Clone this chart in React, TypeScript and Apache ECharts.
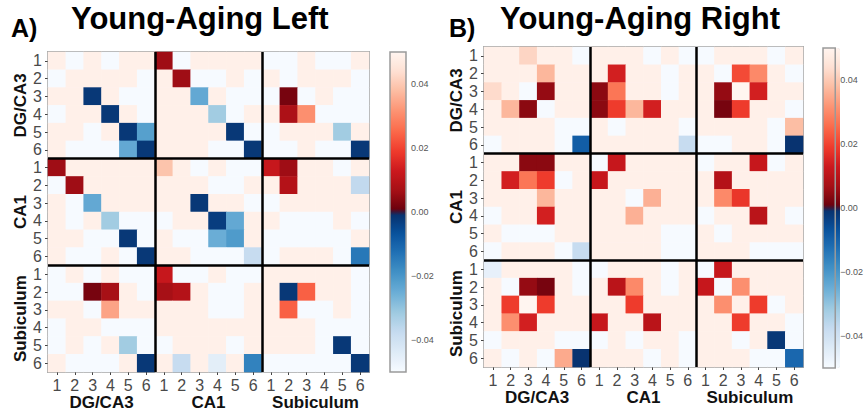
import React, { useEffect, useRef } from "react";
import * as echarts from "echarts";

const regions = ["DG/CA3", "CA1", "Subiculum"];
const subfieldTicks = ["1", "2", "3", "4", "5", "6"];
const colorbarTicks = [-0.04, -0.02, 0, 0.02, 0.04];
const P = 0.0485; // non-significant, positive
const B = -0.0497; // non-significant, negative

const leftValues = [
  [P, B, P, B, P, P, 0.006, B, P, P, P, P, B, B, P, B, B, P],
  [B, P, P, P, P, B, P, 0.006, B, B, P, B, P, B, P, P, P, B],
  [P, P, -0.002, P, B, B, P, P, -0.024, P, B, B, B, 0.002, B, P, B, B],
  [B, P, P, -0.002, P, B, P, P, P, -0.032, B, P, P, 0.008, 0.031, B, B, B],
  [P, P, B, P, -0.002, -0.022, P, P, P, P, -0.002, B, B, P, P, P, -0.032, P],
  [P, B, B, B, -0.024, -0.002, P, P, P, B, B, -0.002, B, B, P, B, B, -0.002],
  [0.006, P, P, P, P, P, 0.039, P, B, P, B, B, 0.012, 0.006, P, P, B, P],
  [B, 0.006, P, P, P, P, P, P, P, B, B, P, P, 0.009, P, P, P, -0.037],
  [P, B, -0.024, P, P, P, P, P, -0.002, P, P, B, B, P, P, P, P, P],
  [P, B, P, -0.032, B, B, B, P, P, -0.003, -0.024, P, P, B, B, B, P, B],
  [P, P, B, B, -0.002, B, P, B, B, -0.025, -0.021, P, B, B, B, B, B, P],
  [P, B, B, P, B, -0.002, P, P, B, B, B, -0.038, B, P, P, P, B, -0.014],
  [B, P, B, P, B, B, 0.012, B, B, P, B, B, P, P, P, P, P, B],
  [B, B, 0.002, 0.007, P, B, 0.007, 0.009, P, B, B, P, P, -0.002, 0.024, P, P, B],
  [P, P, B, 0.034, P, P, P, P, P, B, B, P, P, 0.024, B, B, P, B],
  [B, P, P, B, B, B, P, P, P, P, P, P, P, P, P, B, B, B],
  [B, P, B, P, -0.032, B, B, P, P, P, B, P, P, P, P, B, -0.002, B],
  [P, B, B, B, P, -0.002, P, -0.038, P, -0.045, P, -0.016, B, B, B, B, B, -0.002],
];

const rightValues = [
  [P, P, 0.042, P, P, B, P, P, P, B, P, B, B, P, P, P, B, P],
  [P, P, P, 0.037, P, P, P, 0.014, P, P, B, P, P, B, 0.021, 0.03, P, B],
  [0.043, P, B, 0.005, P, P, 0.004, 0.027, P, P, B, P, P, 0.005, 0.05, 0.014, P, P],
  [P, 0.037, 0.004, B, P, P, 0.004, 0.019, 0.037, 0.014, P, P, P, 0.002, 0.019, P, P, B],
  [P, P, P, P, B, B, P, B, P, P, P, B, P, P, P, P, B, 0.038],
  [B, P, P, P, B, -0.009, P, P, P, P, P, -0.038, B, B, P, P, B, -0.001],
  [P, P, 0.004, 0.004, P, P, B, 0.012, P, P, P, P, B, P, P, 0.012, B, P],
  [P, 0.014, 0.027, 0.019, B, P, 0.012, P, P, P, P, P, P, 0.009, P, P, P, P],
  [P, P, P, 0.037, P, P, P, P, B, 0.036, P, P, P, 0.03, 0.018, P, P, P],
  [B, P, P, 0.014, P, P, P, P, 0.036, P, P, P, B, P, P, 0.01, P, B],
  [P, B, B, B, P, P, P, P, P, P, B, B, P, B, P, P, P, P],
  [B, P, P, P, B, -0.038, P, P, P, P, B, B, P, P, P, B, B, B],
  [-0.046, P, P, P, P, B, B, P, P, P, B, P, B, 0.012, P, P, P, P],
  [P, B, 0.005, 0.002, P, B, P, 0.01, 0.03, P, B, P, 0.012, B, 0.031, P, P, P],
  [P, 0.019, 0.05, 0.019, P, P, P, P, 0.019, P, P, P, P, 0.031, P, 0.019, B, P],
  [P, 0.031, 0.014, P, P, P, 0.012, P, P, 0.01, P, P, P, P, 0.019, P, P, B],
  [B, P, P, P, B, B, B, P, B, P, P, B, P, P, B, P, -0.002, B],
  [P, B, P, B, 0.035, -0.001, P, P, P, B, P, B, P, P, P, B, B, -0.011],
];

const FONT = "'Liberation Sans', Arial, Helvetica, sans-serif";
const BLUES = ["#f7fbff", "#deebf7", "#c6dbef", "#9ecae1", "#6baed6", "#4292c6", "#2171b5", "#08519c", "#08306b"];
const REDS = ["#67000d", "#a50f15", "#cb181d", "#ef3b2c", "#fb6a4a", "#fc9272", "#fcbba1", "#fee0d2", "#fff5f0"];

function hexToRgb(h: string) {
  const n = parseInt(h.slice(1), 16);
  return [(n >> 16) & 255, (n >> 8) & 255, n & 255];
}
function samplePalette(pal: string[], n: number) {
  const out: string[] = [];
  for (let i = 0; i < n; i++) {
    const pos = (i / (n - 1)) * (pal.length - 1);
    const k = Math.min(Math.floor(pos), pal.length - 2);
    const f = pos - k;
    const a = hexToRgb(pal[k]);
    const b = hexToRgb(pal[k + 1]);
    const c = a.map((v, j) => Math.round(v + (b[j] - v) * f));
    out.push(`rgb(${c[0]},${c[1]},${c[2]})`);
  }
  return out;
}
const colorStops = [...samplePalette(BLUES, 60), ...samplePalette(REDS, 60)];

const categories = regions.flatMap((r) => subfieldTicks.map((t) => `${r}|${t}`));
const toCells = (m: number[][]) => m.flatMap((row, r) => row.map((v, c) => [c, r, v]));

const panels = [
  {
    values: leftValues,
    grid: { left: 48, top: 52, width: 321, height: 320 },
    bar: { left: 390, top: 52, width: 16, height: 320 },
    tag: "A)", tagX: 11, tagY: 29,
    title: "Young-Aging Left", titleX: 71,
  },
  {
    values: rightValues,
    grid: { left: 484, top: 47, width: 319, height: 320 },
    bar: { left: 823, top: 48, width: 17, height: 320 },
    tag: "B)", tagX: 449, tagY: 29,
    title: "Young-Aging Right", titleX: 500,
  },
];

function buildOption() {
  const grid: any[] = [];
  const xAxis: any[] = [];
  const yAxis: any[] = [];
  const series: any[] = [];
  const visualMap: any[] = [];
  const graphic: any[] = [];

  panels.forEach((p, i) => {
    grid.push({ ...p.grid, show: true, borderColor: "#a8a8a8", borderWidth: 2, backgroundColor: "transparent" });
    const gi = i;
    xAxis.push({
      type: "category", gridIndex: gi, data: categories, position: "bottom",
      axisLine: { show: false },
      axisTick: { show: true, length: 3, alignWithLabel: true, lineStyle: { color: "#444" } },
      axisLabel: { interval: 0, margin: 5, fontSize: 16, color: "#4a4a4a", fontFamily: FONT, formatter: (v: string) => v.split("|")[1] },
      splitLine: { show: false },
    });
    yAxis.push({
      type: "category", gridIndex: gi, data: categories, position: "left", inverse: true,
      axisLine: { show: false },
      axisTick: { show: true, length: 3, alignWithLabel: true, lineStyle: { color: "#444" } },
      axisLabel: { interval: 0, margin: 6, fontSize: 16, color: "#4a4a4a", fontFamily: FONT, formatter: (v: string) => v.split("|")[1] },
      splitLine: { show: false },
    });
    xAxis.push({
      type: "category", gridIndex: gi, data: regions, position: "bottom", offset: 14, z: 5,
      axisLine: { show: false }, axisTick: { show: false },
      axisLabel: { interval: 0, margin: 8, fontSize: 17, fontWeight: "bold", color: "#111", fontFamily: FONT },
      splitLine: { show: true, showMinLine: false, showMaxLine: false, lineStyle: { color: "#000", width: 2.5 } },
    });
    yAxis.push({
      type: "category", gridIndex: gi, data: regions, position: "left", inverse: true, offset: 11, z: 5,
      axisLine: { show: false }, axisTick: { show: false },
      axisLabel: { interval: 0, margin: 8, rotate: 90, fontSize: 17, fontWeight: "bold", color: "#111", fontFamily: FONT },
      splitLine: { show: true, showMinLine: false, showMaxLine: false, lineStyle: { color: "#000", width: 2.5 } },
    });
    series.push({
      type: "heatmap", xAxisIndex: i * 2, yAxisIndex: i * 2,
      data: toCells(p.values),
      itemStyle: { borderWidth: 0 },
      emphasis: { disabled: true },
      progressive: 0,
    });
    visualMap.push({
      type: "continuous", seriesIndex: i, dimension: 2, min: -0.05, max: 0.05,
      calculable: false, hoverLink: false, realtime: false,
      inRange: { color: colorStops },
      left: p.bar.left, top: p.bar.top, itemWidth: p.bar.width, itemHeight: p.bar.height,
      padding: 0,
    });
    graphic.push(
      { type: "text", left: p.tagX, top: p.tagY - 14, style: { text: p.tag, font: `bold 25px ${FONT}`, fill: "#000" } },
      { type: "text", left: p.titleX, top: 3, style: { text: p.title, font: `bold 31px ${FONT}`, fill: "#000" } },
    );
  });

  panels.forEach((p, i) => {
    grid.push({ ...p.bar, show: true, borderColor: "#9a9a9a", borderWidth: 1.5, backgroundColor: "transparent", z: 10 });
    xAxis.push({ type: "value", gridIndex: 2 + i, show: false, min: 0, max: 1 });
    yAxis.push({
      type: "value", gridIndex: 2 + i, position: "right", min: -0.05, max: 0.05,
      axisLine: { show: false },
      axisTick: { show: true, length: 3, customValues: colorbarTicks, lineStyle: { color: "#666" } },
      axisLabel: {
        customValues: colorbarTicks, margin: 5, fontSize: 9, color: "#555", fontFamily: FONT,
        formatter: (v: number) => (v < 0 ? "\u2212" : "") + Math.abs(v).toFixed(2),
      },
      splitLine: { show: false },
    });
  });

  return { animation: false, backgroundColor: "#fff", grid, xAxis, yAxis, series, visualMap, graphic };
}

export default function App() {
  const ref = useRef<HTMLDivElement>(null);
  useEffect(() => {
    const chart = echarts.init(ref.current!, null, { renderer: "svg" });
    chart.setOption(buildOption() as any);
    return () => chart.dispose();
  }, []);
  return (
    <div
      ref={ref}
      style={{ position: "fixed", left: 0, top: 0, width: 866, height: 415, background: "#fff" }}
    />
  );
}
